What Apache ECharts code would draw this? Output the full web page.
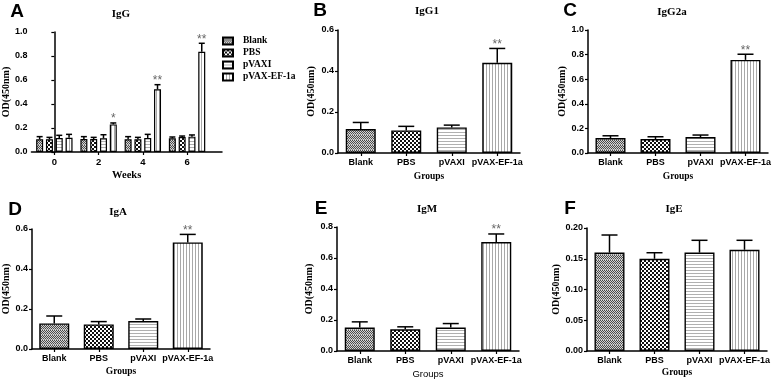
<!DOCTYPE html>
<html><head><meta charset="utf-8">
<script src="https://cdn.jsdelivr.net/npm/echarts@6/dist/echarts.min.js"></script>
<style>html,body{margin:0;padding:0;background:#fff}#c{width:778px;height:381px}</style>
</head><body><div id="c"></div>
<script>
// ---------- DATA ----------
const groups = ['Blank', 'PBS', 'pVAXI', 'pVAX-EF-1a'];
const weeks = [0, 2, 4, 6];

// Panel A: IgG over weeks (one array per group)
const igG_blank = [0.106, 0.108, 0.106, 0.114];
const igG_blank_err = [0.022, 0.020, 0.022, 0.011];
const igG_pbs = [0.106, 0.108, 0.106, 0.125];
const igG_pbs_err = [0.016, 0.014, 0.016, 0.008];
const igG_pvaxi = [0.117, 0.114, 0.117, 0.128];
const igG_pvaxi_err = [0.022, 0.030, 0.030, 0.014];
const igG_ef = [0.119, 0.230, 0.522, 0.836];
const igG_ef_err = [0.028, 0.012, 0.039, 0.070];
const igG_ef_sig = ['', '*', '**', '**'];

// Panels B-F: per group
const igG1 = [0.117, 0.110, 0.125, 0.440];
const igG1_err = [0.032, 0.020, 0.011, 0.070];
const igG2a = [0.122, 0.113, 0.130, 0.757];
const igG2a_err = [0.018, 0.019, 0.016, 0.046];
const igA = [0.128, 0.123, 0.140, 0.533];
const igA_err = [0.037, 0.014, 0.010, 0.040];
const igM = [0.151, 0.140, 0.151, 0.703];
const igM_err = [0.037, 0.016, 0.026, 0.052];
const igE = [0.160, 0.150, 0.160, 0.1646];
const igE_err = [0.0286, 0.0098, 0.020, 0.0154];
const sigLast = ['', '', '', '**'];
const sigNone = ['', '', '', ''];

// ---------- PATTERNS ----------
function mk(w, h, draw) { const c = document.createElement('canvas'); c.width = w; c.height = h; const g = c.getContext('2d'); draw(g); return c; }
const patBlank = mk(2, 5, g => { g.fillStyle = '#d4d4d4'; g.fillRect(0, 0, 2, 5); g.fillStyle = '#4a4a4a'; g.fillRect(0, 0, 1, 1); g.fillRect(1, 1, 1, 1); g.fillRect(0, 2, 1, 1); g.fillRect(1, 3, 1, 1); g.fillStyle = '#888'; g.fillRect(0, 4, 1, 1); });
const patPBS = mk(4, 4, g => { g.fillStyle = '#fff'; g.fillRect(0, 0, 4, 4); g.fillStyle = '#111'; g.fillRect(0, 0, 2, 2); g.fillRect(2, 2, 2, 2); });
const patH = mk(1, 3, g => { g.fillStyle = '#fff'; g.fillRect(0, 0, 1, 3); g.fillStyle = '#b0b0b0'; g.fillRect(0, 0, 1, 1); });
const patV = mk(3, 1, g => { g.fillStyle = '#fff'; g.fillRect(0, 0, 3, 1); g.fillStyle = '#a8a8a8'; g.fillRect(0, 0, 1, 1); });
const fills = [patBlank, patPBS, patH, patV].map(c => ({ image: c, repeat: 'repeat' }));

const SANS = 'Liberation Sans', SERIF = 'Liberation Serif';

function errSeries(xi, pts, sigs, offset, cap) {
  return {
    type: 'custom', xAxisIndex: xi, yAxisIndex: xi, z: 5, silent: true, clip: false,
    data: pts,
    renderItem: (params, api) => {
      const x = api.value(0), v = api.value(1), e = api.value(2);
      const b = api.coord([x, v]), t = api.coord([x, v + e]);
      const cx = b[0] + offset;
      const ch = [
        { type: 'line', shape: { x1: cx, y1: b[1], x2: cx, y2: t[1] }, style: { stroke: '#000', lineWidth: 1.5 } },
        { type: 'line', shape: { x1: cx - cap, y1: t[1], x2: cx + cap, y2: t[1] }, style: { stroke: '#000', lineWidth: 1.5 } }
      ];
      const s = sigs[params.dataIndex];
      if (s) ch.push({ type: 'text', x: cx, y: t[1] - 10, style: { text: s, fill: '#666', fontSize: 12, fontFamily: SANS, align: 'center', verticalAlign: 'top' } });
      return { type: 'group', children: ch };
    }
  };
}

const grids = [], xAxes = [], yAxes = [], series = [];

function yAxisCfg(i, max, interval, dec, gap) {
  return {
    type: 'value', gridIndex: i, min: 0, max: max, interval: interval,
    axisLine: { show: true, lineStyle: { color: '#000', width: 1.5 } },
    axisTick: { show: true, length: 3, lineStyle: { color: '#000', width: 1.2 } },
    splitLine: { show: false },
    axisLabel: { formatter: v => v.toFixed(dec), margin: 4, color: '#000', fontFamily: SANS, fontWeight: 'bold', fontSize: 9 },
    name: 'OD(450nm)', nameLocation: 'middle', nameGap: gap, nameRotate: 90,
    nameTextStyle: { fontFamily: SERIF, fontWeight: 'bold', fontSize: 10, color: '#000' }
  };
}

// Panel A
grids.push({ left: 31, top: 32, width: 191, height: 120 });
xAxes.push({
  type: 'value', gridIndex: 0, min: -1.037, max: 7.58,
  axisLine: { show: true, onZero: false, lineStyle: { color: '#000', width: 1.5 } },
  axisTick: { show: true, length: 3, customValues: weeks, lineStyle: { color: '#000', width: 1.2 } },
  axisLabel: { customValues: weeks, margin: 5, color: '#000', fontFamily: SANS, fontWeight: 'bold', fontSize: 9.5 },
  splitLine: { show: false },
  name: 'Weeks', nameLocation: 'middle', nameGap: 18,
  nameTextStyle: { fontFamily: SERIF, fontWeight: 'bold', fontSize: 10.5, color: '#000' }
});
yAxes.push(yAxisCfg(0, 1, 0.2, 1, 18));
const aVals = [igG_blank, igG_pbs, igG_pvaxi, igG_ef];
const aErrs = [igG_blank_err, igG_pbs_err, igG_pvaxi_err, igG_ef_err];
const aSigs = [sigNone, sigNone, sigNone, igG_ef_sig];
const BW = 7, BG = 2.8;
aVals.forEach((vals, k) => {
  series.push({
    type: 'bar', name: groups[k], xAxisIndex: 0, yAxisIndex: 0, barWidth: BW, barGap: (BG / BW * 100) + '%',
    itemStyle: { color: fills[k], borderColor: '#000', borderWidth: 1.2 },
    data: weeks.map((w, j) => [w, vals[j]])
  });
});
aVals.forEach((vals, k) => {
  series.push(errSeries(0, weeks.map((w, j) => [w, vals[j], aErrs[k][j]]), aSigs[k], (k - 1.5) * (BW + BG), 3));
});

// Panels B-F
const panels = [
  { rect: { left: 338, top: 30, width: 182, height: 123 }, max: 0.6, int: 0.2, dec: 1, vals: igG1, errs: igG1_err, sig: sigLast, ygap: 22, xgap: 19, gfont: SERIF, gbold: 'bold' },
  { rect: { left: 588, top: 30, width: 180, height: 123 }, max: 1.0, int: 0.2, dec: 1, vals: igG2a, errs: igG2a_err, sig: sigLast, ygap: 17, xgap: 19, gfont: SERIF, gbold: 'bold' },
  { rect: { left: 32, top: 229, width: 178, height: 120 }, max: 0.6, int: 0.2, dec: 1, vals: igA, errs: igA_err, sig: sigLast, ygap: 19, xgap: 18, gfont: SERIF, gbold: 'bold' },
  { rect: { left: 337, top: 227, width: 182, height: 124 }, max: 0.8, int: 0.2, dec: 1, vals: igM, errs: igM_err, sig: sigLast, ygap: 23, xgap: 18, gfont: SANS, gbold: 'normal' },
  { rect: { left: 587, top: 228, width: 180, height: 123 }, max: 0.2, int: 0.05, dec: 2, vals: igE, errs: igE_err, sig: sigNone, ygap: 23, xgap: 17, gfont: SERIF, gbold: 'bold' }
];
panels.forEach((p, n) => {
  const i = n + 1;
  grids.push(p.rect);
  xAxes.push({
    type: 'category', gridIndex: i, data: groups,
    axisLine: { show: true, lineStyle: { color: '#000', width: 1.5 } },
    axisTick: { show: true, alignWithLabel: true, length: 3, lineStyle: { color: '#000', width: 1.2 } },
    axisLabel: { margin: 5, color: '#000', fontFamily: SANS, fontWeight: 'bold', fontSize: 9, interval: 0 },
    name: 'Groups', nameLocation: 'middle', nameGap: p.xgap,
    nameTextStyle: { fontFamily: p.gfont, fontWeight: p.gbold, fontSize: 9.5, color: '#000' }
  });
  yAxes.push(yAxisCfg(i, p.max, p.int, p.dec, p.ygap));
  series.push({
    type: 'bar', xAxisIndex: i, yAxisIndex: i, barWidth: 30,
    itemStyle: { borderColor: '#000', borderWidth: 1.4 },
    data: p.vals.map((v, k) => ({ value: v, itemStyle: { color: fills[k] } }))
  });
  series.push(errSeries(i, p.vals.map((v, k) => [k, v, p.errs[k]]), p.sig, 0, 8));
});

// Titles and panel letters
const titles = [['IgG', 121, 14], ['IgG1', 427, 11], ['IgG2a', 672, 12], ['IgA', 118, 212], ['IgM', 427, 209], ['IgE', 674, 209]];
const letters = [['A', 17, 12], ['B', 320, 11], ['C', 570, 11], ['D', 15, 210], ['E', 321, 209], ['F', 570, 209]];
const graphic = [];
titles.forEach(t => graphic.push({ type: 'text', x: t[1], y: t[2], style: { text: t[0], fontFamily: SERIF, fontWeight: 'bold', fontSize: 11, fill: '#000', align: 'center', verticalAlign: 'middle' } }));
letters.forEach(t => graphic.push({ type: 'text', x: t[1], y: t[2], style: { text: t[0], fontFamily: SANS, fontWeight: 'bold', fontSize: 19, fill: '#000', align: 'center', verticalAlign: 'middle' } }));

const chart = echarts.init(document.getElementById('c'), null, { renderer: 'canvas', width: 778, height: 381 });
chart.setOption({
  animation: false,
  backgroundColor: '#fff',
  grid: grids, xAxis: xAxes, yAxis: yAxes, series: series, graphic: graphic,
  legend: {
    data: groups, orient: 'vertical', left: 222, top: 36, padding: 0,
    itemWidth: 10, itemHeight: 7, itemGap: 2, icon: 'rect', selectedMode: false,
    textStyle: { fontFamily: SERIF, fontWeight: 'bold', fontSize: 9.5, color: '#000', padding: [0, 0, 0, 5] }
  }
});
</script></body></html>
